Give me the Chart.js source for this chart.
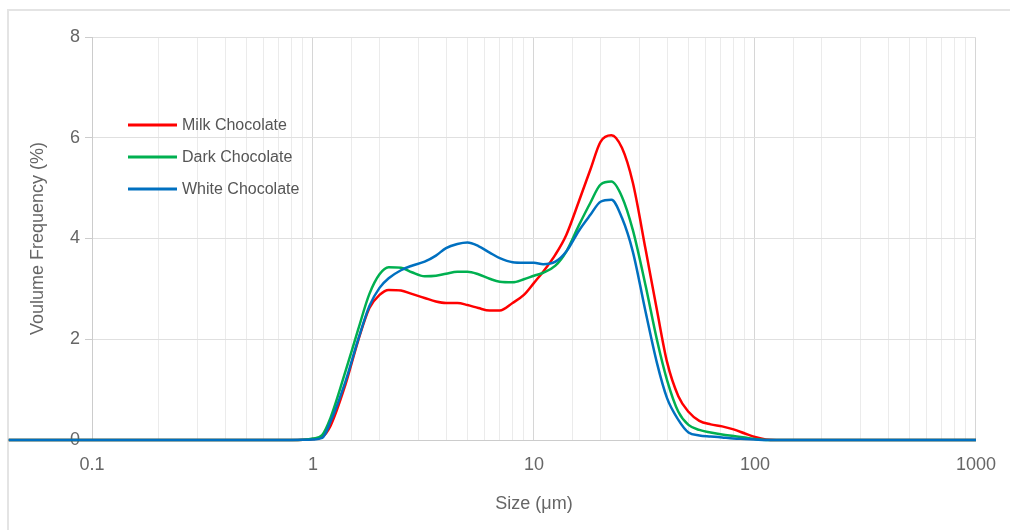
<!DOCTYPE html>
<html>
<head>
<meta charset="utf-8">
<script src="https://cdn.jsdelivr.net/npm/chart.js@4"></script>
<style>
  body { margin: 0; background: #fff; overflow: hidden; }
  #frame { position: absolute; left: 7px; top: 9px; width: 1100px; height: 600px; border: 2px solid #e4e4e4; }
  #wrap { position: absolute; left: 0; top: 0; width: 1010px; height: 530px; }
</style>
</head>
<body>
<div id="frame"></div>
<div id="wrap"><canvas id="chart"></canvas></div>
<script>
// Data
const sizes = [0.042, 0.1, 0.5, 0.8, 0.9, 1, 1.1, 1.2, 1.4, 1.6, 1.8, 2, 2.2, 2.5, 2.8, 3.2, 3.6, 4, 4.5, 5, 5.6, 6.3, 7, 8, 9, 10,
               11, 12.5, 14, 16, 18, 20, 22.4, 25, 28, 32, 36, 40, 45, 50, 56, 63, 71, 80, 90, 100, 112, 125, 200, 500, 1000];

const milk = [0, 0, 0, 0, 0.005, 0.02, 0.06, 0.28, 1.09, 1.97, 2.62, 2.88, 2.98, 2.97, 2.90, 2.82, 2.75, 2.72, 2.72, 2.68, 2.62, 2.57, 2.57, 2.72, 2.88, 3.12,
              3.34, 3.68, 4.07, 4.75, 5.37, 5.92, 6.05, 5.80, 5.11, 3.78, 2.58, 1.55, 0.87, 0.56, 0.38, 0.31, 0.27, 0.21, 0.13, 0.06, 0.01, 0, 0, 0, 0];

const dark = [0, 0, 0, 0, 0.005, 0.03, 0.10, 0.44, 1.35, 2.19, 2.90, 3.29, 3.43, 3.42, 3.33, 3.25, 3.26, 3.30, 3.34, 3.34, 3.29, 3.20, 3.14, 3.13, 3.19, 3.26,
              3.32, 3.46, 3.74, 4.27, 4.71, 5.07, 5.13, 4.83, 4.17, 3.06, 1.99, 1.19, 0.56, 0.30, 0.20, 0.15, 0.11, 0.08, 0.05, 0.02, 0, 0, 0, 0, 0];

const white = [0, 0, 0, 0, 0.003, 0.01, 0.04, 0.36, 1.15, 1.99, 2.66, 3.02, 3.21, 3.37, 3.46, 3.54, 3.66, 3.81, 3.89, 3.92, 3.85, 3.72, 3.61, 3.53, 3.52, 3.52,
               3.49, 3.54, 3.74, 4.16, 4.47, 4.73, 4.77, 4.41, 3.74, 2.54, 1.53, 0.83, 0.40, 0.15, 0.09, 0.07, 0.05, 0.03, 0.02, 0.01, 0, 0, 0, 0, 0];

const seriesNames = ['Milk Chocolate', 'Dark Chocolate', 'White Chocolate'];
const seriesColors = ['#ff0000', '#00b050', '#0070c0'];
const yTicks = [0, 2, 4, 6, 8];

const textColor = '#666666';
const fontFamily = '"Liberation Sans", Arial, sans-serif';

function isDecade(v) {
    const e = Math.round(Math.log10(v));
    return Math.abs(v - Math.pow(10, e)) < 1e-9 * Math.pow(10, e);
}

function makeDataset(name, values, color, order) {
    return {
        label: name,
        data: sizes.map((s, i) => ({ x: s, y: values[i] })),
        borderColor: color,
        backgroundColor: color,
        borderWidth: 2.5,
        pointRadius: 0,
        cubicInterpolationMode: 'monotone',
        clip: false,
        fill: false,
        order: order
    };
}

// legend drawn inside the plot, top left
const insideLegend = {
    id: 'insideLegend',
    afterDraw(chart) {
        const ctx = chart.ctx;
        ctx.save();
        ctx.font = '16px ' + fontFamily;
        ctx.textBaseline = 'middle';
        ctx.textAlign = 'left';
        chart.data.datasets.forEach((ds, i) => {
            const y = 125 + i * 32;
            ctx.strokeStyle = ds.borderColor;
            ctx.lineWidth = 3;
            ctx.beginPath();
            ctx.moveTo(128, y);
            ctx.lineTo(177, y);
            ctx.stroke();
            ctx.fillStyle = '#555555';
            ctx.fillText(ds.label, 182, y + 1);
        });
        ctx.restore();
    }
};

new Chart(document.getElementById('chart'), {
    type: 'line',
    data: {
        datasets: [
            makeDataset(seriesNames[0], milk, seriesColors[0], 2),
            makeDataset(seriesNames[1], dark, seriesColors[1], 1),
            makeDataset(seriesNames[2], white, seriesColors[2], 0)
        ]
    },
    options: {
        responsive: true,
        maintainAspectRatio: false,
        animation: false,
        layout: { padding: { top: 37, right: 34, left: 0, bottom: 0 } },
        plugins: {
            legend: { display: false },
            tooltip: { enabled: false }
        },
        scales: {
            x: {
                type: 'logarithmic',
                min: 0.1,
                max: 1000,
                afterFit(scale) { scale.height = 90; },
                border: { color: '#cccccc' },
                grid: {
                    drawTicks: false,
                    color: ctx => (ctx.tick && isDecade(ctx.tick.value)) ? '#d6d6d6' : '#ebebeb'
                },
                ticks: {
                    autoSkip: false,
                    maxRotation: 0,
                    padding: 14,
                    color: textColor,
                    font: { size: 18, family: fontFamily },
                    callback: v => isDecade(v) ? String(Math.pow(10, Math.round(Math.log10(v)))) : ''
                },
                title: {
                    display: true,
                    text: 'Size (μm)',
                    color: textColor,
                    font: { size: 18, family: fontFamily },
                    padding: { top: 0, bottom: 15 }
                }
            },
            y: {
                min: 0,
                max: 8,
                afterFit(scale) { scale.width = 92; },
                afterBuildTicks(scale) { scale.ticks = yTicks.map(v => ({ value: v })); },
                border: { color: '#cccccc' },
                grid: { color: '#e0e0e0', tickLength: 7, tickColor: '#cccccc' },
                ticks: {
                    padding: 5,
                    color: textColor,
                    font: { size: 18, family: fontFamily }
                },
                title: {
                    display: true,
                    text: 'Voulume Frequency (%)',
                    color: textColor,
                    font: { size: 18, family: fontFamily },
                    padding: { top: 27, bottom: 0 }
                }
            }
        }
    },
    plugins: [insideLegend]
});
</script>
</body>
</html>
